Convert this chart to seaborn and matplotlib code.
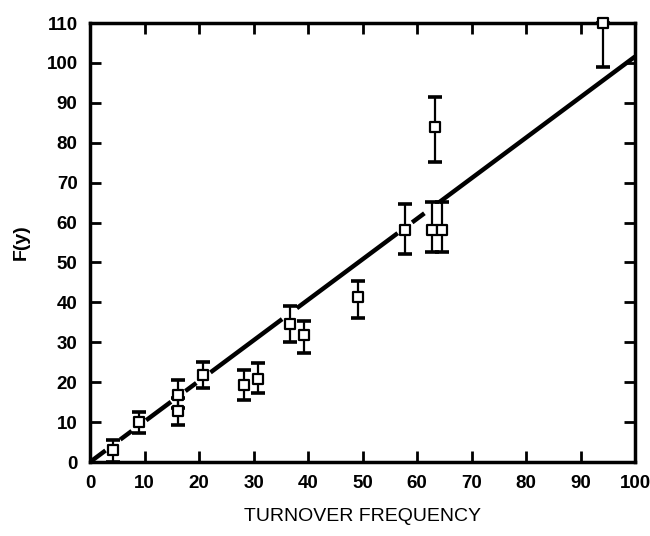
import numpy as np
import pandas as pd
import matplotlib
matplotlib.use("Agg")
import matplotlib.pyplot as plt
import seaborn as sns

# ---- data ----
turnover = [4.2, 9.0, 16.2, 16.2, 20.8, 28.3, 30.8, 36.6, 39.3, 49.2, 57.8, 62.7, 63.3, 64.5, 94.2]
fy       = [3.0, 10.0, 16.8, 12.8, 21.8, 19.3, 20.7, 34.6, 31.8, 41.4, 58.1, 58.1, 83.9, 58.1, 110.0]
fy_low   = [0.0, 7.3, 13.5, 9.3, 18.5, 15.5, 17.4, 30.2, 27.4, 36.0, 52.1, 52.6, 75.3, 52.6, 99.1]
fy_high  = [5.5, 12.6, 20.5, 16.0, 25.1, 23.0, 24.8, 39.1, 35.4, 45.4, 64.7, 65.2, 91.5, 65.2, 110.0]
fit_slope = 1.016
x_ticks = list(range(0, 101, 10))
y_ticks = list(range(0, 111, 10))

df = pd.DataFrame({"x": turnover, "y": fy, "lo": fy_low, "hi": fy_high})

sns.set_style("ticks")
plt.rcParams["font.family"] = ["Liberation Sans", "DejaVu Sans"]
plt.rcParams["text.color"] = "black"
plt.rcParams["axes.labelcolor"] = "black"
plt.rcParams["xtick.color"] = "black"
plt.rcParams["ytick.color"] = "black"

fig = plt.figure(figsize=(6.5, 5.36), dpi=100)
ax = fig.add_axes([0.1385, 0.138, 0.8385, 0.819])

# fitted line, broken where it passes through a point's error bar
xs = np.linspace(0, 100, 2001)
ys = fit_slope * xs
mask = np.ones_like(xs, dtype=bool)
for _, r in df.iterrows():
    fx = fit_slope * r["x"]
    if r["lo"] <= fx <= r["hi"]:
        mask &= np.abs(xs - r["x"]) > 1.3
ys_plot = np.where(mask, ys, np.nan)
ax.plot(xs, ys_plot, color="black", lw=3.2, solid_capstyle="butt")

# error bars
yerr = np.vstack([df["y"] - df["lo"], df["hi"] - df["y"]])
ax.errorbar(df["x"], df["y"], yerr=yerr, fmt="none", ecolor="black",
            elinewidth=1.6, capsize=5, capthick=2.6, clip_on=False, zorder=3)
sns.scatterplot(data=df, x="x", y="y", ax=ax, marker="s", s=55,
                facecolor="white", edgecolor="black", linewidth=1.6,
                clip_on=False, zorder=4, legend=False)

ax.set_xlim(0, 100)
ax.set_ylim(0, 110)
ax.set_xticks(x_ticks)
ax.set_yticks(y_ticks)
ax.tick_params(direction="in", length=8, width=2, top=True, right=True,
               labelsize=13.5, pad=9, color="black", labelcolor="black")
for lab in ax.get_xticklabels() + ax.get_yticklabels():
    lab.set_fontweight("bold")
for sp in ax.spines.values():
    sp.set_visible(True)
    sp.set_linewidth(2.5)
    sp.set_color("black")

ax.set_xlabel("TURNOVER FREQUENCY", fontsize=14, labelpad=12, color="black")
ax.set_ylabel("F(y)", fontsize=14, fontweight="bold", labelpad=12, color="black")

fig.savefig("out.png", dpi=100)
